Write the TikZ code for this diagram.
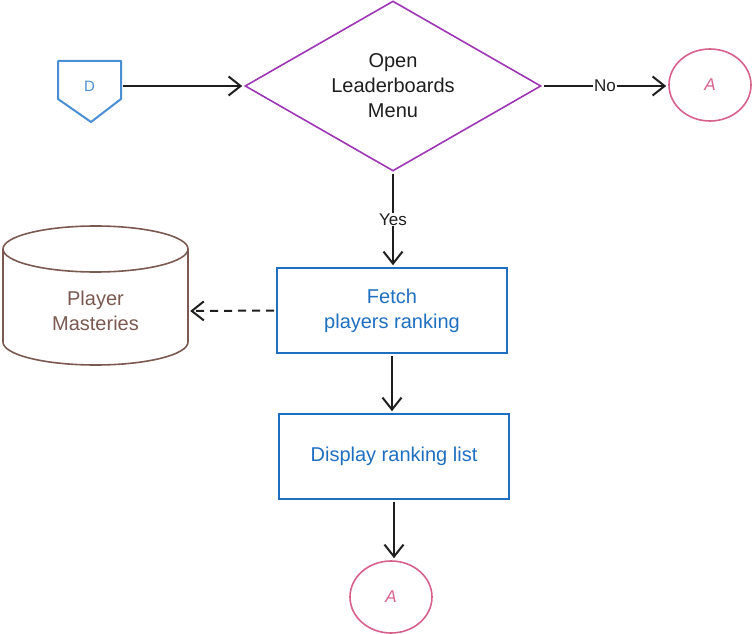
\documentclass[tikz,border=0pt]{standalone}
\usepackage{fontspec}
\setmainfont{Liberation Sans}
\usetikzlibrary{shapes.geometric,arrows.meta}
\definecolor{ink}{HTML}{1E1E1E}
\definecolor{boxblue}{HTML}{1F6FC0}
\definecolor{offblue}{HTML}{4A8FD4}
\definecolor{decpurple}{HTML}{9C36B5}
\definecolor{termpink}{HTML}{D6628A}
\definecolor{dbbrown}{HTML}{7A5A50}
\tikzset{
  conn/.style={draw=ink, line width=2pt, shorten <=2pt, shorten >=2pt,
    -{Straight Barb[length=12pt,width=19pt,line width=2pt]}},
  txt/.style={font=\fontsize{20}{25}\selectfont, align=center},
  procbox/.style={txt, draw=boxblue, line width=1.6pt, minimum width=230pt,
    minimum height=85pt, text=boxblue},
  termell/.style={ellipse, draw=termpink, line width=1.6pt, minimum width=82pt,
    minimum height=72pt, text=termpink, font=\fontsize{17}{18}\selectfont\itshape},
  lbl/.style={fill=white, inner sep=1pt, text=ink, font=\fontsize{17}{18}\selectfont},
}
\begin{document}
\begin{tikzpicture}[x=1pt,y=-1pt]
\useasboundingbox (0,0) rectangle (753,634);
% off-page connector D
\draw[offblue, line width=2pt, line join=round] (58,61) -- (121,61) -- (121,99) -- (91,122) -- (58,99) -- cycle;
\node[minimum width=63pt, minimum height=40pt, inner sep=0pt, text=offblue,
  font=\fontsize{15}{16}\selectfont] (D) at (89.5,86) {D};
% decision
\node[diamond, draw=decpurple, line width=1.6pt, minimum width=296pt, minimum height=170pt,
  inner sep=0pt, aspect=1.74, txt, text=ink] (dec) at (393,86) {Open\\Leaderboards\\Menu};
% terminals
\node[termell] (A1) at (710,85) {A};
\node[termell] (A2) at (391,597) {A};
% process boxes
\node[procbox] (fetch) at (392,310.5) {Fetch\\players ranking};
\node[procbox] (disp) at (394,456.5) {Display ranking list};
% database cylinder
\draw[dbbrown, line width=1.6pt]
  (3,249) arc[start angle=180, end angle=0, x radius=92.5, y radius=-23]
  (3,249) arc[start angle=180, end angle=360, x radius=92.5, y radius=-23]
  (3,249) -- (3,342) arc[start angle=180, end angle=360, x radius=92.5, y radius=-23] -- (188,249);
\node[txt, text=dbbrown, minimum width=185pt, minimum height=60pt, inner sep=0pt] (db) at (95.5,311) {Player\\Masteries};
% connectors
\draw[conn] (D.east) -- (dec.west);
\draw[conn] (dec.east) -- node[lbl] {No} (dec.east -| A1.west);
\draw[conn] (dec.south) -- node[lbl] {Yes} (dec.south |- fetch.north);
\draw[conn, dash pattern=on 8pt off 6pt] (fetch.west) -- (db.east);
\draw[conn] (fetch.south) -- (fetch.south |- disp.north);
\draw[conn] (disp.south) -- (disp.south |- A2.north);
\end{tikzpicture}
\end{document}
